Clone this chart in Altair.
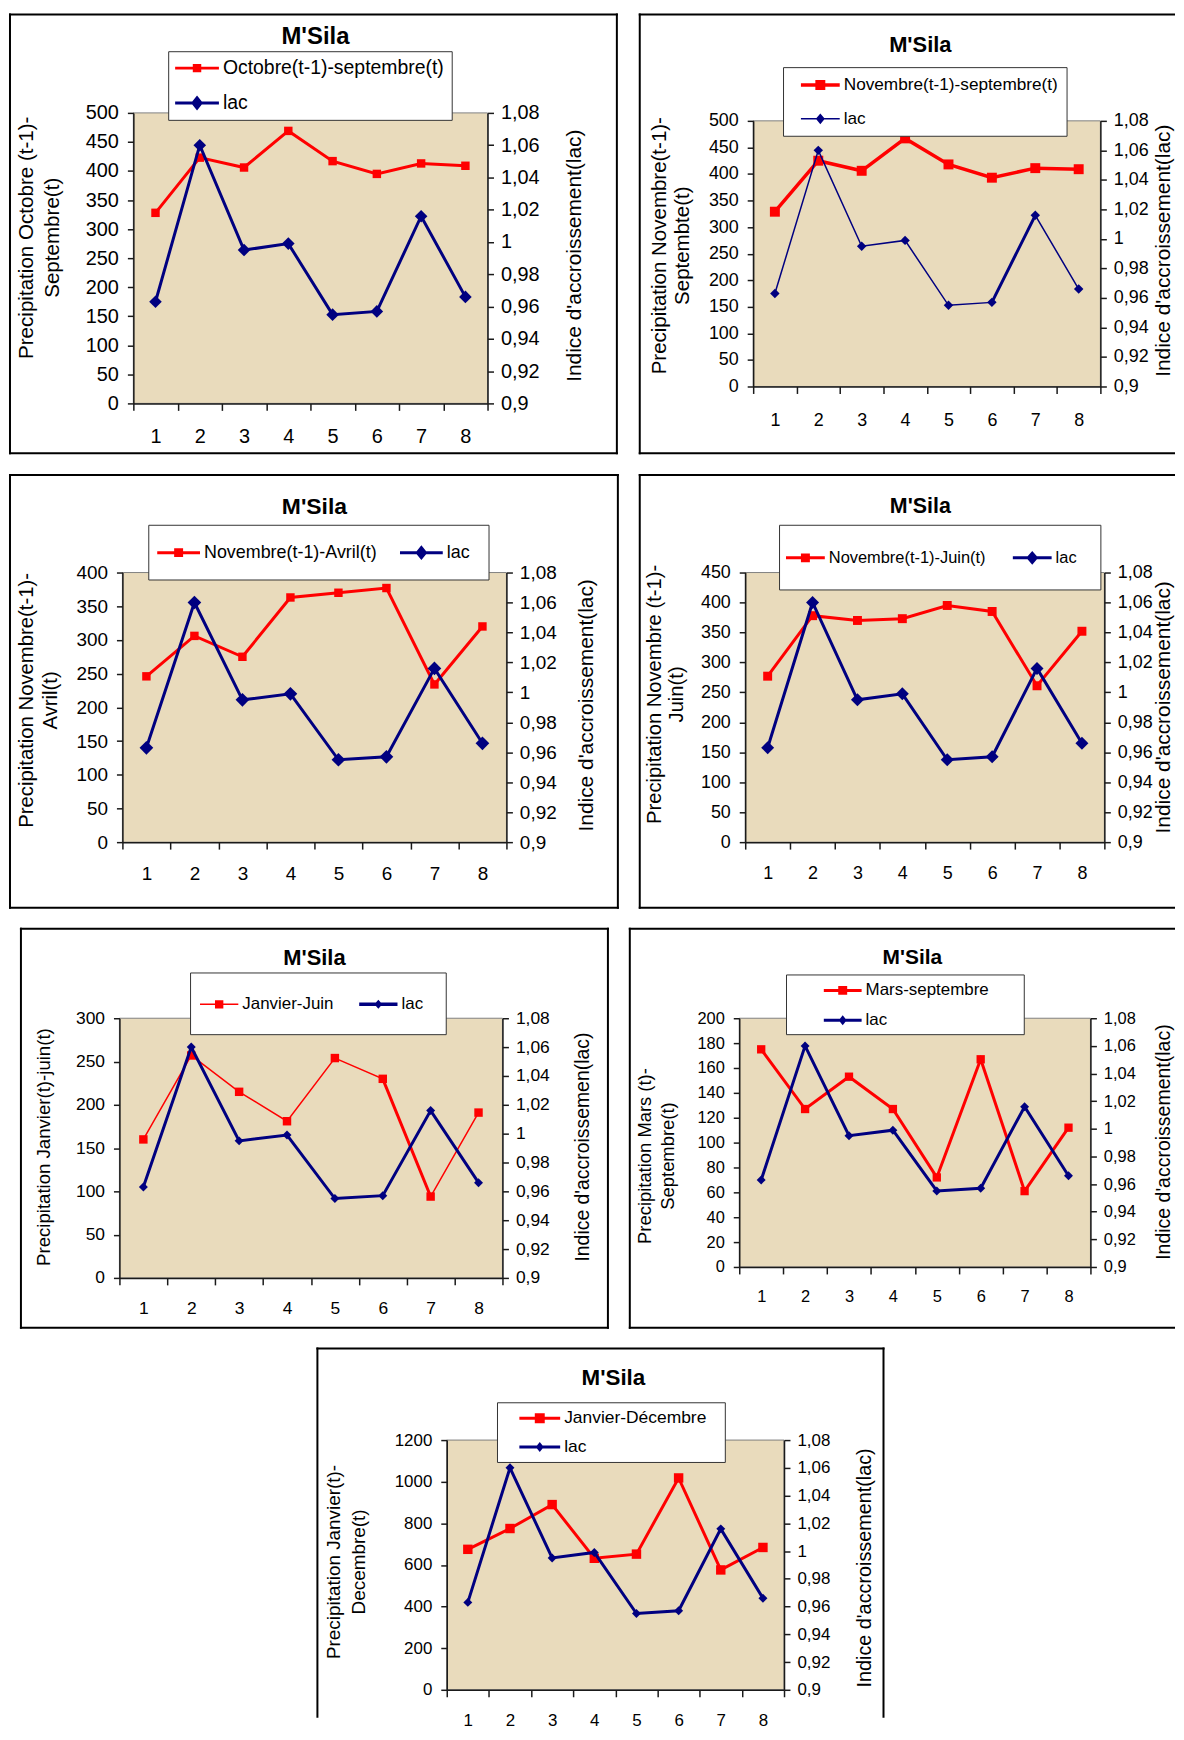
import altair as alt
import pandas as pd

# ---------------- data ----------------
YEARS = [1, 2, 3, 4, 5, 6, 7, 8]
LAC = [0.963, 1.060, 0.995, 0.999, 0.955, 0.957, 1.016, 0.966]

OCT_SEP = [328, 423, 406, 469, 417, 395, 413, 409]
NOV_SEP = [329, 425, 406, 467, 418, 393, 411, 409]
NOV_AVR = [246, 306, 275, 363, 370, 377, 234, 320]
NOV_JUIN = [277, 378, 370, 373, 395, 385, 261, 352]
JAN_JUIN = [160, 257, 215, 181, 254, 230, 94, 191]
MARS_SEP = [175, 127, 153, 127, 72, 167, 61, 112]
JAN_DEC = [675, 775, 890, 632, 652, 1018, 576, 684]

LAC_LABEL = "lac"
CHART_TITLE = "M'Sila"
RIGHT_TITLE = "Indice d'accroissement(lac)"
RIGHT_TITLE_5 = "Indice d'accroissemen(lac)"
RIGHT_TICKS = [0.9, 0.92, 0.94, 0.96, 0.98, 1.0, 1.02, 1.04, 1.06, 1.08]

RED = "#FF0000"
NAVY = "#000080"
BEIGE = "#E9DBBC"
FONT = "Liberation Sans"


def legend_shape(half, lw, marker, mw, mh, ext_r=None):
    """Legend symbol: a line with its marker (units of 10 px, symbolSize 400)."""
    u = 10.0
    a, b, t = -half / u, half / u, lw / 2 / u
    d = [f"M{a:.3f},{-t:.3f}L{b:.3f},{-t:.3f}L{b:.3f},{t:.3f}L{a:.3f},{t:.3f}Z"]
    x, y = mw / u, mh / u
    if marker == "square":
        d.append(f"M{-x:.3f},{-y:.3f}L{x:.3f},{-y:.3f}L{x:.3f},{y:.3f}L{-x:.3f},{y:.3f}Z")
    else:
        d.append(f"M0,{-y:.3f}L{x:.3f},0L0,{y:.3f}L{-x:.3f},0Z")
    if ext_r is not None:
        d.append(f"M{ext_r/u:.3f},0L{ext_r/u:.3f},0")
    return "".join(d)


# geometry in page pixels: view origin, frame, plot area, legend box, title centre
PANELS = [
    dict(red=OCT_SEP, label="Octobre(t-1)-septembre(t)", ymax=500, ystep=50,
         origin=(9, 13), W=611, H=442, frame=(9, 13, 619, 454), open=None,
         plot=(133, 112, 356, 292), title=(316, 36), tfs=24,
         ytitle=["Precipitation Octobre (t-1)-", "Septembre(t)"], ytx=-107.5, yty=125, ylh=26.5, ytfs=20.7,
         rtitle=RIGHT_TITLE, rtx=87, rty=143, rtfs=21, fs=20, xlp=16,
         red_w=3, blue_w=3, sq=72, dia=160, extra=None,
         leg=dict(box=(168, 50), dir="vertical", pad=7, rp=15, cp=0, fs=19.5, half=22, a=0,
                  rlw=3, rsq=4.25, blw=3, dia=(6, 7.5), ext_r=None)),
    dict(red=NOV_SEP, label="Novembre(t-1)-septembre(t)", ymax=500, ystep=50,
         origin=(637, 13), W=537, H=442, frame=(637, 13, 1174, 454), open="right",
         plot=(751, 120, 349, 267), title=(919, 44), tfs=22,
         ytitle=["Precipitation Novembre(t-1)-", "Septembte(t)"], ytx=-94.4, yty=125, ylh=23, ytfs=20.6,
         rtitle=RIGHT_TITLE, rtx=63, rty=130, rtfs=21, fs=18, xlp=18,
         red_w=3.5, blue_w=1.5, sq=100, dia=90, extra=("blue", 3),
         leg=dict(box=(781, 66), dir="vertical", pad=8, rp=15, cp=0, fs=17.3, half=19.5, a=10,
                  rlw=3.5, rsq=5, blw=1.5, dia=(4.5, 5.3), ext_r=None)),
    dict(red=NOV_AVR, label="Novembre(t-1)-Avril(t)", ymax=400, ystep=50,
         origin=(9, 472), W=611, H=435, frame=(9, 472, 620, 907), open=None,
         plot=(122, 570, 386, 271), title=(315, 504), tfs=23,
         ytitle=["Precipitation Novembre(t-1)-", "Avril(t)"], ytx=-96, yty=128, ylh=23.5, ytfs=20.4,
         rtitle=RIGHT_TITLE, rtx=81, rty=133, rtfs=21, fs=19, xlp=16,
         red_w=3, blue_w=3, sq=72, dia=190, extra=None,
         leg=dict(box=(148, 522), dir="horizontal", pad=18, rp=0, cp=23, fs=18, half=21.5, a=-9,
                  rlw=3, rsq=4.5, blw=3, dia=(6, 7.5), ext_r=None)),
    dict(red=NOV_JUIN, label="Novembre(t-1)-Juin(t)", ymax=450, ystep=50,
         origin=(637, 472), W=537, H=435, frame=(637, 472, 1174, 907), open="right",
         plot=(743, 570, 361, 271), title=(919, 504), tfs=21.5,
         ytitle=["Precipitation Novembre (t-1)-", "Juin(t)"], ytx=-91, yty=122, ylh=22, ytfs=20.3,
         rtitle=RIGHT_TITLE, rtx=59, rty=135, rtfs=21, fs=18, xlp=16,
         red_w=3, blue_w=3, sq=81, dia=170, extra=None,
         leg=dict(box=(777, 522), dir="horizontal", pad=23, rp=0, cp=27, fs=16.5, half=19.5, a=-16,
                  rlw=3, rsq=4.5, blw=3, dia=(6, 7), ext_r=None)),
    dict(red=JAN_JUIN, label="Janvier-Juin", ymax=300, ystep=50,
         origin=(9, 924), W=601, H=401, frame=(20, 924, 610, 1325), open=None,
         plot=(119, 1014, 385, 261), title=(315, 953), tfs=22,
         ytitle="Precipitation Janvier(t)-juin(t)", ytx=-76, yty=129, ylh=22, ytfs=18.7,
         rtitle=RIGHT_TITLE_5, rtx=80.5, rty=129, rtfs=19.5, fs=17.5, xlp=14.5,
         red_w=1.5, blue_w=3, sq=72, dia=81, extra=("red", 3),
         leg=dict(box=(190, 968), dir="horizontal", pad=22, rp=0, cp=25, fs=17, half=19.25, a=-12,
                  rlw=1.5, rsq=4.2, blw=3.5, dia=(4, 4.5), ext_r=None)),
    # second-column views all start at the same x; this frame begins 10 px to the left of it
    dict(red=MARS_SEP, label="Mars-septembre", ymax=200, ystep=20,
         origin=(637, 924), W=537, H=401, frame=(627, 924, 1174, 1325), open="right",
         plot=(737, 1014, 353, 250), title=(911, 953), tfs=21,
         ytitle=["Precipitation Mars (t)-", "Septembre(t)"], ytx=-95, yty=138, ylh=23, ytfs=18.5,
         rtitle=RIGHT_TITLE, rtx=73, rty=124, rtfs=19.6, fs=16.5, xlp=15,
         red_w=3, blue_w=3, sq=70, dia=81, extra=None,
         leg=dict(box=(784, 970), dir="vertical", pad=6, rp=12, cp=0, fs=17, half=19, a=32,
                  rlw=3, rsq=4.5, blw=3, dia=(4, 5), ext_r=176)),
    # the last panel's view is kept to the first column's width; its frame reaches past it
    dict(red=JAN_DEC, label="Janvier-Décembre", ymax=1200, ystep=200,
         origin=(9, 1342), W=611, H=370, frame=(318, 1342, 887, 1712), open="bottom",
         plot=(448, 1434, 339, 251), title=(615.5, 1372), tfs=22.5,
         ytitle=["Precipitation Janvier(t)-", "Decembre(t)"], ytx=-114, yty=122, ylh=25, ytfs=19,
         rtitle=RIGHT_TITLE, rtx=81, rty=128, rtfs=19.9, fs=17, xlp=15.7,
         red_w=3, blue_w=3, sq=90, dia=81, extra=None,
         leg=dict(box=(498.5, 1396), dir="vertical", pad=6, rp=10, cp=0, fs=17.5, half=20.5, a=16.5,
                  rlw=3, rsq=5, blw=3, dia=(4, 5), ext_r=179.5)),
]


def make_legend(lg, ox, oy):
    red_path = legend_shape(lg["half"], lg["rlw"], "square", lg["rsq"], lg["rsq"], lg["ext_r"])
    lac_path = legend_shape(lg["half"], lg["blw"], "diamond", lg["dia"][0], lg["dia"][1], lg["ext_r"])
    shape_expr = f"datum.value === '{LAC_LABEL}' ? '{lac_path}' : '{red_path}'"
    fill_expr = f"datum.value === '{LAC_LABEL}' ? '{NAVY}' : '{RED}'"
    sym_off = lg["a"] - 10 + lg["half"]
    return alt.Legend(
        title=None, orient="none", legendX=lg["box"][0] - ox, legendY=lg["box"][1] - oy,
        direction=lg["dir"], columns=1 if lg["dir"] == "vertical" else 2,
        fillColor="white", strokeColor="#333333", padding=lg["pad"],
        rowPadding=lg["rp"], columnPadding=lg["cp"],
        labelFont=FONT, labelFontSize=lg["fs"], labelColor="black", labelLimit=600,
        labelOffset=lg["half"] - 6, symbolSize=400, symbolStrokeWidth=0,
        symbolOffset=sym_off, symbolOpacity=1,
        symbolType={"expr": shape_expr},
        symbolFillColor={"expr": fill_expr},
    )


def deco_layers(p):
    ox, oy = p["origin"]
    fl, ft, fr, fb = (p["frame"][0] - ox, p["frame"][1] - oy, p["frame"][2] - ox, p["frame"][3] - oy)
    px, py, w, h = p["plot"]
    L, T = px - ox, py - oy
    src = alt.Chart(pd.DataFrame({"cadre": [0]}))
    style = dict(color="black", strokeWidth=2, strokeCap="square")
    layers = [
        src.mark_rect(fill=BEIGE, stroke="#808080", strokeWidth=1)
        .encode(x=alt.value(L), x2=alt.value(L + w), y=alt.value(T), y2=alt.value(T + h)),
        src.mark_rule(**style).encode(x=alt.value(fl), x2=alt.value(fr), y=alt.value(ft)),
        src.mark_rule(**style).encode(x=alt.value(fl), y=alt.value(ft), y2=alt.value(fb)),
    ]
    if p["open"] != "bottom":
        layers.append(src.mark_rule(**style).encode(x=alt.value(fl), x2=alt.value(fr), y=alt.value(fb)))
    if p["open"] != "right":
        layers.append(src.mark_rule(**style).encode(x=alt.value(fr), y=alt.value(ft), y2=alt.value(fb)))
    layers.append(
        src.mark_text(text=CHART_TITLE, font=FONT, fontSize=p["tfs"], fontWeight="bold", color="black",
                      align="center", baseline="middle")
        .encode(x=alt.value(p["title"][0] - ox), y=alt.value(p["title"][1] - oy)))
    return layers


def make_panel(p):
    ox, oy = p["origin"]
    px, py, w, h = p["plot"]
    L, T = px - ox, py - oy
    W, H = p["W"], p["H"]
    df_red = pd.DataFrame({"Annee": YEARS, "Precipitation": p["red"], "Serie": [p["label"]] * len(YEARS)})
    df_lac = pd.DataFrame({"Annee": YEARS, "Indice": LAC, "Serie": [LAC_LABEL] * len(YEARS)})
    base_r = alt.Chart(df_red)
    base_b = alt.Chart(df_lac)
    fs = p["fs"]
    common_axis = dict(labelFont=FONT, labelColor="black", titleFont=FONT, titleColor="black",
                       titleFontWeight="normal", domainColor="#1a1a1a", tickColor="#1a1a1a",
                       domainWidth=1.5, tickWidth=1.5, grid=False, labelFlush=False,
                       labelOverlap=False, zindex=1)
    xenc = alt.X("Annee:O", bandPosition=0.5,
                 scale=alt.Scale(type="band", paddingInner=0, paddingOuter=0, range=[L, L + w]),
                 axis=alt.Axis(title=None, orient="bottom", offset=(T + h) - H, labelAngle=0,
                               tickBand="extent", tickSize=7, labelPadding=p["xlp"],
                               labelFontSize=fs, **common_axis))
    yleft = alt.Y("Precipitation:Q",
                  scale=alt.Scale(domain=[0, p["ymax"]], nice=False, zero=True, range=[T + h, T]),
                  axis=alt.Axis(orient="left", offset=-L, values=list(range(0, p["ymax"] + 1, p["ystep"])),
                                format="d",
                                title=p["ytitle"], titleX=p["ytx"], titleY=T + p["yty"], titleAngle=270,
                                titleAlign="center", titleBaseline="middle", titleLineHeight=p["ylh"],
                                titleFontSize=p["ytfs"], labelFontSize=fs, labelPadding=9, tickSize=6,
                                **common_axis))
    yright = alt.Y("Indice:Q",
                   scale=alt.Scale(domain=[0.9, 1.08], nice=False, zero=False, range=[T + h, T]),
                   axis=alt.Axis(orient="right", offset=(L + w) - W, values=RIGHT_TICKS,
                                 labelExpr="replace(toString(datum.value), '.', ',')",
                                 title=p["rtitle"], titleX=p["rtx"], titleY=T + p["rty"], titleAngle=270,
                                 titleAlign="center", titleBaseline="middle",
                                 titleFontSize=p["rtfs"], labelFontSize=fs, labelPadding=7, tickSize=6,
                                 **common_axis))
    cscale = alt.Scale(domain=[p["label"], LAC_LABEL], range=[RED, NAVY])
    color = alt.Color("Serie:N", scale=cscale, legend=make_legend(p["leg"], ox, oy))

    seg = "datum.Annee >= 6 && datum.Annee <= 7"
    red_layers = [base_r.mark_line(strokeWidth=p["red_w"]).encode(x=xenc, y=yleft, color=color)]
    if p["extra"] and p["extra"][0] == "red":
        red_layers.append(base_r.transform_filter(seg).mark_line(color=RED, strokeWidth=p["extra"][1])
                          .encode(x=xenc, y=yleft))
    red_layers.append(base_r.mark_point(shape="square", filled=True, size=p["sq"], opacity=1)
                      .encode(x=xenc, y=yleft, color=color))
    blue_layers = [base_b.mark_line(strokeWidth=p["blue_w"]).encode(x=xenc, y=yright, color=color)]
    if p["extra"] and p["extra"][0] == "blue":
        blue_layers.append(base_b.transform_filter(seg).mark_line(color=NAVY, strokeWidth=p["extra"][1])
                           .encode(x=xenc, y=yright))
    blue_layers.append(base_b.mark_point(shape="diamond", filled=True, size=p["dia"], opacity=1)
                       .encode(x=xenc, y=yright, color=color))

    return (alt.layer(*deco_layers(p), alt.layer(*red_layers), alt.layer(*blue_layers))
            .resolve_scale(y="independent")
            .properties(width=W, height=H,
                        view=alt.ViewBackground(fill="transparent", stroke="transparent")))


P = [make_panel(p) for p in PANELS]

chart = (alt.concat(*P, columns=2, spacing={"row": 21, "column": 22}, bounds="flush", align="none")
         .resolve_scale(color="independent", x="independent", y="independent")
         .resolve_legend(color="independent")
         .properties(padding={"left": 0, "top": 0, "right": 0, "bottom": 0}, background="white"))

chart.save("out.html", embed_options={"renderer": "svg", "actions": False})
